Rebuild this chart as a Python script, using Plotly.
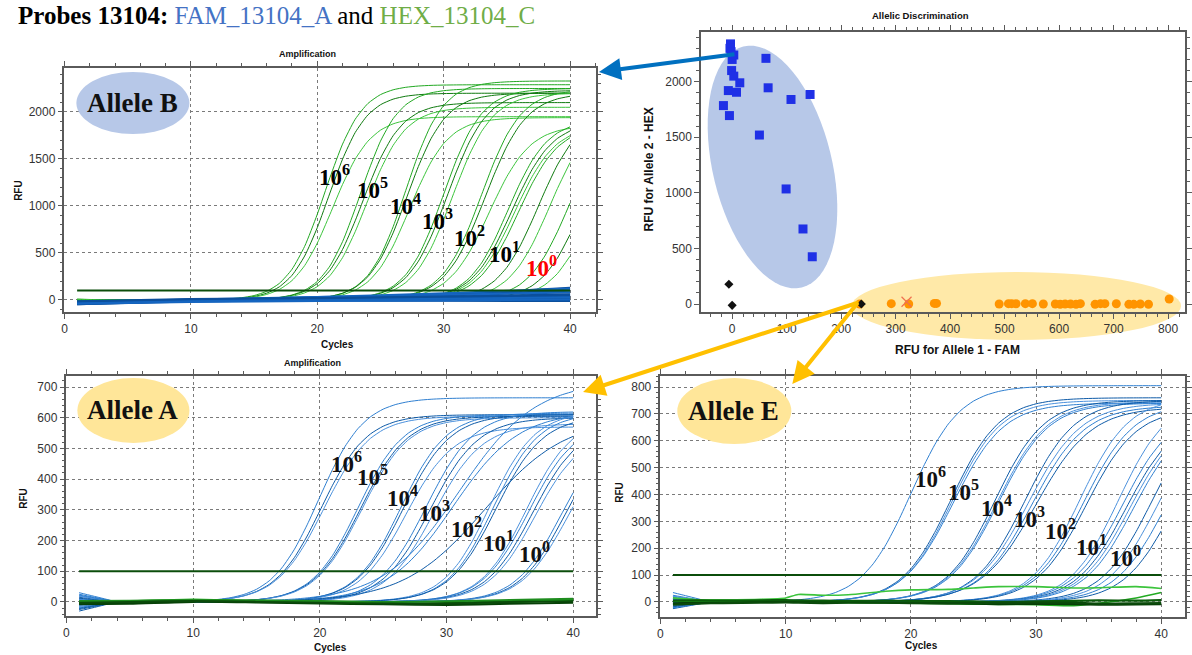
import numpy as np
import plotly.graph_objects as go

W, H = 1192, 655
def fx(p): return p / W
def fy(p): return 1 - p / H

cycles = np.arange(1, 41)

# ---------------- Allele B panel (HEX channel, green curves) ----------------
B_mid     = [20.6, 20.9, 21.2, 23.4, 23.6, 23.9, 27.0, 27.1, 27.3, 30.0, 30.3, 30.7,
             33.0, 33.3, 33.6, 35.1, 35.4, 35.6, 35.9, 37.5, 38.4, 39.9, 41.0, 41.9]
B_plateau = [2290, 2200, 1950, 2250, 2100, 2050, 2330, 2200, 1940, 2250, 2230, 2200,
             2240, 2200, 1860, 1920, 1900, 1860, 1860, 2000, 2000, 2000, 2000, 2000]
B_slope   = [1.45, 1.45, 1.5, 1.45, 1.5, 1.5, 1.45, 1.5, 1.5, 1.5, 1.55, 1.55,
             1.55, 1.6, 1.6, 1.55, 1.6, 1.6, 1.6, 1.6, 1.6, 1.6, 1.6, 1.6]
B_start   = [-8, 5, -3, 0, 8, -5, 3, -8, 6, -2, 4, -6, 2, -4, 7, -7, 3, 0, -3, 5, -5, 2, -2, 6]

# FAM negatives in Allele B panel (blue band), values at cycles below
B_neg_cycles = [1, 10, 20, 30, 40]
B_neg = [
    [-45, -10, 20, 60, 130],
    [-40, -5, 30, 70, 120],
    [-35, 0, 25, 50, 100],
    [-30, 5, 30, 55, 80],
    [-40, -10, 10, 30, 60],
    [-25, 0, 10, 25, 45],
    [-45, -15, 0, 10, 20],
    [-20, 5, 10, 5, 0],
    [-35, -10, -5, -8, -10],
    [-30, -5, 5, 15, 30],
    [-15, 10, 20, 35, 50],
    [-40, -20, -10, -5, 5],
]

# ---------------- Allele A panel (FAM channel, blue curves) ----------------
A_mid     = [19.9, 20.1, 20.3, 23.0, 23.2, 23.3, 26.4, 26.6, 26.8, 28.4, 28.7, 29.0,
             30.5, 33.0, 33.4, 33.7, 33.9, 36.3, 36.5, 36.8, 37.0, 39.0, 39.3, 39.6, 31.0]
A_plateau = [665, 610, 605, 610, 605, 600, 615, 610, 570, 620, 600, 580,
             620, 600, 620, 615, 605, 600, 590, 580, 560, 560, 560, 560, 720]
A_slope   = [1.8, 1.8, 1.85, 1.8, 1.85, 1.85, 1.8, 1.85, 1.85, 1.9, 1.9, 1.9,
             2.6, 3.2, 1.8, 1.8, 1.85, 1.8, 1.85, 1.85, 1.85, 1.8, 1.8, 1.85, 3.0]
A_start   = [30, -30, 20, -20, 10, -10, 25, -25, 5, -5, 15, -15,
             0, 12, -12, 8, -8, 18, -18, 3, -3, 22, -22, 6, -6]

A_neg_cycles = [1, 5, 10, 15, 20, 25, 30, 35, 40]
A_neg = [
    [-5, -3, 5, 2, -2, -6, -4, 3, 5],
    [0, 2, 8, 3, 0, -3, -8, -2, 8],
    [-8, -6, 0, -2, -5, -8, -10, -6, -3],
    [3, 4, 6, 5, 3, 0, 2, 6, 10],
    [-3, 0, 3, 0, -3, -5, -6, 0, 2],
]

# ---------------- Allele E panel (FAM channel, blue curves) ----------------
E_mid     = [20.0, 23.2, 23.3, 23.4, 26.7, 26.9, 27.0, 29.1, 29.4, 29.7, 30.0,
             33.5, 33.8, 34.0, 36.6, 36.9, 37.2, 37.5, 37.8, 39.2, 39.7, 40.3, 41.0]
E_plateau = [805, 760, 750, 740, 750, 745, 740, 750, 740, 730, 725,
             760, 740, 720, 760, 720, 700, 700, 700, 740, 720, 700, 700]
E_slope   = [1.95, 1.95, 1.95, 2.0, 1.95, 2.0, 2.0, 2.0, 2.1, 2.1, 2.2,
             1.95, 2.0, 2.0, 1.95, 2.0, 2.0, 2.0, 2.0, 2.0, 2.0, 2.0, 2.0]
E_start   = [35, -25, 20, -20, 10, -10, 25, -15, 5, -5, 15, -12,
             0, 12, -8, 8, -18, 18, 3, -3, 22, -22, 6]

E_neg_cycles = [1, 3, 5, 8, 10, 11, 13, 15, 18, 20, 23, 25, 27, 30, 33, 35, 38, 40]
E_neg = [
    [15, 8, 8, 10, 15, 28, 25, 27, 40, 45, 47, 52, 57, 57, 52, 53, 57, 50],
    [3, 2, 1, 0, 0, -1, -2, -3, -4, -5, -6, -8, -9, -10, -14, -5, 15, 35],
    [-5, -3, -2, 0, 2, 3, 2, 0, -2, -3, -5, -6, -8, -7, -8, -10, -9, -8],
    [5, 6, 5, 6, 7, 6, 5, 4, 5, 4, 3, 2, 0, 2, 4, 6, 5, 7],
    [-10, -6, -4, -3, -2, -3, -4, -3, -3, -4, -5, -4, -3, -2, -3, -6, -5, -4],
]

# ---------------- Allelic discrimination scatter ----------------
hex_sq_x = [-3, -4, -2, 3, 0, 62, -1, 3, 14, -7, 8, 66, -16, -5, 108, 143, 50, 99, 130, 147]
hex_sq_y = [2340, 2300, 2270, 2240, 2200, 2210, 2100, 2050, 1990, 1920, 1905, 1945,
            1785, 1695, 1840, 1885, 1520, 1035, 675, 425]
fam_ci_x = [234, 292, 324, 371, 375, 490, 507, 513, 521, 538, 551, 571, 593, 602,
            611, 621, 631, 639, 666, 676, 684, 705, 728, 737, 749, 764, 802]
fam_ci_y = [0, 3, 0, 5, 5, 0, 3, 3, 2, 3, 3, 0, 0, -2, 0, 0, -3, 3, -3, 3, 3, 2,
            -3, -3, 0, -2, 45]
ntc_x = [-6, 0, 237]
ntc_y = [177, -12, 0]
undet_x = [320]
undet_y = [20]

THRESH = 100

def amp_curve(mid, plat, slope, start):
    base = start * np.clip((4 - cycles) / 3.0, 0, 1)
    return base + plat / (1 + np.exp(-(cycles - mid) / slope))

fig = go.Figure()

def line(x, y, color, width, ax):
    fig.add_trace(go.Scatter(x=list(x), y=list(y), mode="lines",
                             line=dict(color=color, width=width, shape="spline", smoothing=0.6),
                             xaxis="x" + ax, yaxis="y" + ax,
                             showlegend=False, hoverinfo="skip"))

greens = ["#22a822", "#0f7a0f", "#3cc43c"]
blues = ["#2f7fd0", "#0d5aa7", "#4a90dc"]

# Panel B (axis 1)
for i, (m, p, s, st) in enumerate(zip(B_mid, B_plateau, B_slope, B_start)):
    line(cycles, amp_curve(m, p, s, st), greens[i % 3], 1, "")
for i, v in enumerate(B_neg):
    line(B_neg_cycles, v, ["#0b4f9c", "#1565c0"][i % 2], 2.2, "")
line([1, 40], [THRESH, THRESH], "#0b4d0b", 2, "")

# Panel A (axis 3)
for i, (m, p, s, st) in enumerate(zip(A_mid, A_plateau, A_slope, A_start)):
    line(cycles, amp_curve(m, p, s, st), blues[i % 3], 1, "3")
for i, v in enumerate(A_neg):
    line(A_neg_cycles, v, ["#0a5a0a", "#22aa22", "#064006", "#1e8c1e", "#0a4a0a"][i], 2, "3")
line([1, 40], [THRESH, THRESH], "#0b4d0b", 2, "3")

# Panel E (axis 4)
for i, (m, p, s, st) in enumerate(zip(E_mid, E_plateau, E_slope, E_start)):
    line(cycles, amp_curve(m, p, s, st), blues[i % 3], 1, "4")
for i, v in enumerate(E_neg):
    line(E_neg_cycles, v, ["#3cc43c", "#22aa22", "#064006", "#0a5a0a", "#0a4a0a"][i], 1.6 if i < 2 else 2.2, "4")
line([1, 40], [THRESH, THRESH], "#0b4d0b", 2, "4")

# Scatter (axis 2)
fig.add_trace(go.Scatter(x=hex_sq_x, y=hex_sq_y, mode="markers", xaxis="x2", yaxis="y2",
                         marker=dict(symbol="square", size=9, color="#1f30e6"),
                         showlegend=False, hoverinfo="skip"))
fig.add_trace(go.Scatter(x=fam_ci_x, y=fam_ci_y, mode="markers", xaxis="x2", yaxis="y2",
                         marker=dict(symbol="circle", size=9, color="#ff9400"),
                         showlegend=False, hoverinfo="skip"))
fig.add_trace(go.Scatter(x=ntc_x, y=ntc_y, mode="markers", xaxis="x2", yaxis="y2",
                         marker=dict(symbol="diamond", size=7, color="#111"),
                         showlegend=False, hoverinfo="skip"))
fig.add_trace(go.Scatter(x=undet_x, y=undet_y, mode="markers", xaxis="x2", yaxis="y2",
                         marker=dict(symbol="x-thin", size=10, line=dict(color="#f07050", width=1.2)),
                         showlegend=False, hoverinfo="skip"))

TICKFONT = dict(family="Liberation Sans Narrow, Arial Narrow, Liberation Sans, Arial", size=12, color="#333")
common = dict(showline=True, linecolor="#5a5a5a", linewidth=1.5, mirror="allticks",
              ticks="outside", ticklen=5, tickcolor="#5a5a5a", tickfont=TICKFONT,
              zeroline=False)
amp_grid = dict(showgrid=True, gridcolor="#7a7a7a", griddash="dot", gridwidth=1)
xminor = dict(dtick=2, ticks="outside", ticklen=3, tickcolor="#5a5a5a", showgrid=False)
def yminor(d):
    return dict(dtick=d, ticks="outside", ticklen=3, tickcolor="#5a5a5a", showgrid=False)

fig.update_layout(
    width=W, height=H, margin=dict(l=0, r=0, t=0, b=0),
    paper_bgcolor="white", plot_bgcolor="rgba(0,0,0,0)",
    xaxis=dict(domain=[fx(62), fx(598)], range=[0, 42.05], anchor="y", tick0=0, dtick=10,
               minor=xminor, **common, **amp_grid),
    yaxis=dict(domain=[fy(312), fy(68)], range=[-128, 2468], anchor="x", tick0=0, dtick=500,
               minor=yminor(100), **common, **amp_grid),
    xaxis2=dict(domain=[fx(704), fx(1192)], range=[-57, 831], anchor="y2", tick0=0, dtick=100,
                minor=dict(dtick=20, ticks="outside", ticklen=3, tickcolor="#5a5a5a"),
                showgrid=False, **common),
    yaxis2=dict(domain=[fy(312), fy(32)], range=[-72, 2447], anchor="x2", tick0=0, dtick=500,
                minor=dict(dtick=100, ticks="outside", ticklen=3, tickcolor="#5a5a5a"),
                showgrid=False, **common),
    xaxis3=dict(domain=[fx(64), fx(598)], range=[0, 41.8], anchor="y3", tick0=0, dtick=10,
                minor=xminor, **common, **amp_grid),
    yaxis3=dict(domain=[fy(616), fy(376)], range=[-46, 736], anchor="x3", tick0=0, dtick=100,
                minor=yminor(20), **common, **amp_grid),
    xaxis4=dict(domain=[fx(663), 1.0], range=[0, 41.9], anchor="y4", tick0=0, dtick=10,
                minor=xminor, **common, **amp_grid),
    yaxis4=dict(domain=[fy(617), fy(376)], range=[-56, 841], anchor="x4", tick0=0, dtick=100,
                minor=yminor(20), **common, **amp_grid),
)

# ---------- Shapes (ellipses) ----------
shapes = []
cx, cy, a, b = 776, 167, 124, 60
ux, uy = 0.238, 0.972
t = np.linspace(0, 2 * np.pi, 73)
px_ = cx + a * np.cos(t) * ux - b * np.sin(t) * uy
py_ = cy + a * np.cos(t) * uy + b * np.sin(t) * ux
path = "M " + " L ".join(f"{fx(x):.5f},{fy(y):.5f}" for x, y in zip(px_, py_)) + " Z"
shapes.append(dict(type="path", path=path, xref="paper", yref="paper",
                   fillcolor="#b7c8e8", line=dict(width=0), layer="below"))
shapes.append(dict(type="circle", xref="paper", yref="paper", x0=fx(856), x1=fx(1188),
                   y0=fy(340), y1=fy(272), fillcolor="#ffe9a8", line=dict(width=0), layer="below"))
shapes.append(dict(type="circle", xref="paper", yref="paper", x0=fx(74), x1=fx(188),
                   y0=fy(134), y1=fy(72), fillcolor="#b7c8e8", line=dict(width=0), layer="above"))
shapes.append(dict(type="circle", xref="paper", yref="paper", x0=fx(75), x1=fx(188),
                   y0=fy(443), y1=fy(378), fillcolor="#ffe699", line=dict(width=0), layer="above"))
shapes.append(dict(type="circle", xref="paper", yref="paper", x0=fx(680), x1=fx(795),
                   y0=fy(444), y1=fy(378), fillcolor="#ffe699", line=dict(width=0), layer="above"))
fig.update_layout(shapes=shapes)

# ---------- Annotations ----------
ann = []
def txt(x, y, text, size, bold=True, family="Liberation Sans, Arial", color="#111", angle=0,
        xanchor="center"):
    ann.append(dict(x=fx(x), y=fy(y), xref="paper", yref="paper", text=f"<b>{text}</b>" if bold else text,
                    showarrow=False, font=dict(family=family, size=size, color=color),
                    textangle=angle, xanchor=xanchor, yanchor="middle"))

SERIF = "Liberation Serif, Times New Roman, serif"
ann.append(dict(x=fx(14), y=fy(1), xref="paper", yref="paper", xanchor="left", yanchor="top",
                showarrow=False, font=dict(family=SERIF, size=25, color="#000"), borderpad=0,
                text="<b>Probes 13104:</b> <span style='color:#4472c4'>FAM_13104_A</span> and "
                     "<span style='color:#70ad47'>HEX_13104_C</span>"))

txt(307, 54, "Amplification", 9)
txt(312, 363, "Amplification", 9)
txt(925, 16, "Allelic Discrimination", 9.5)
txt(15, 190, "RFU", 10, angle=-90)
txt(337, 344, "Cycles", 10)
txt(20, 498, "RFU", 10, angle=-90)
txt(330, 647, "Cycles", 10)
txt(621, 492, "RFU", 10, angle=-90)
txt(926, 645, "Cycles", 10)
txt(963, 350, "RFU for Allele 1 - FAM", 12)
txt(651, 170, "RFU for Allele 2 - HEX", 12, angle=-90)

txt(131, 103, "Allele B", 27, family=SERIF)
txt(131, 410, "Allele A", 27, family=SERIF)
txt(737, 411, "Allele E", 27, family=SERIF)

exps = [6, 5, 4, 3, 2, 1, 0]
pos_B = [(334, 176), (373, 188), (406, 205), (438, 219), (470, 237), (506, 252), (543, 266)]
pos_A = [(346, 462), (373, 476), (403, 497), (435, 511), (467, 527), (500, 541), (536, 552)]
pos_E = [(935, 477), (969, 490), (1002, 506), (1035, 517), (1066, 529), (1098, 545), (1132, 556)]
for e, (x, y) in zip(exps, pos_B):
    txt(x, y, f"10<sup>{e}</sup>", 23, family=SERIF, color="#ff0000" if e == 0 else "#000")
for e, (x, y) in zip(exps, pos_A):
    txt(x, y, f"10<sup>{e}</sup>", 23, family=SERIF)
for e, (x, y) in zip(exps, pos_E):
    txt(x, y, f"10<sup>{e}</sup>", 23, family=SERIF)

def arrow(hx, hy, tx, ty, color):
    ann.append(dict(x=fx(hx), y=fy(hy), xref="paper", yref="paper", ax=tx - hx, ay=ty - hy,
                    axref="pixel", ayref="pixel", text="", showarrow=True, arrowhead=2,
                    arrowsize=1.1, arrowwidth=4, arrowcolor=color))
arrow(601, 72, 738, 54, "#0070c0")
arrow(585, 392, 862, 302, "#ffc000")
arrow(796, 384, 862, 302, "#ffc000")

fig.update_layout(annotations=ann)
fig.write_html("out.html", config={"displayModeBar": False},
               post_script="document.documentElement.style.overflow='hidden';"
                           "document.body.style.margin='0px';document.body.style.overflow='hidden';")
